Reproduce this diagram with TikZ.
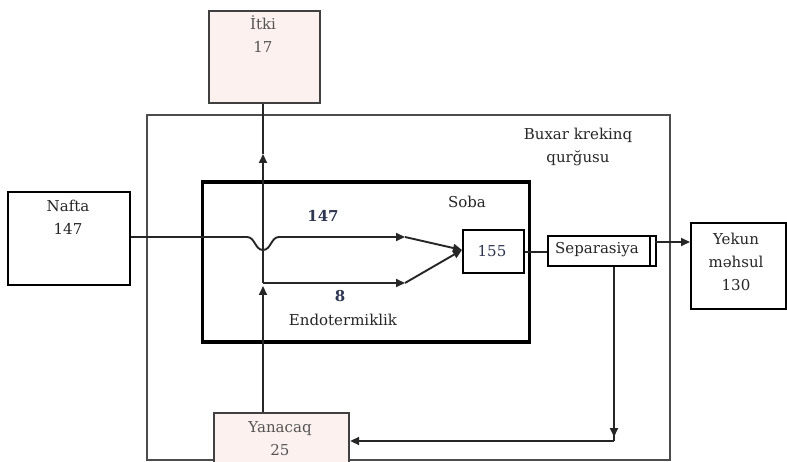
\documentclass[tikz,border=0pt]{standalone}
\usepackage{fontspec}
\setmainfont{DejaVu Serif}
\usetikzlibrary{arrows.meta}
\definecolor{pinkfill}{HTML}{FCF1EF}
\definecolor{txtgray}{HTML}{555555}
\definecolor{numblue}{HTML}{2E3652}
\begin{document}
\begin{tikzpicture}[x=1pt,y=-1pt,
  every node/.style={font=\fontsize{15}{23}\selectfont, align=center, text=black!85},
  pinkbox/.style={draw=black!75, line width=2.2pt, fill=pinkfill, inner sep=0pt},
  whitebox/.style={draw=black, line width=2.2pt, fill=white, inner sep=0pt},
  conn/.style={line width=1.9pt, black!85},
  arr/.style={conn, -{Triangle[length=9pt,width=8pt]}}
]
\useasboundingbox (0,0) rectangle (787,462);
% outer installation box
\node[draw=black!70, line width=1.5pt, minimum width=523pt, minimum height=345pt, inner sep=0pt] (outer) at (408.5,287.5) {};
\node at (578,147) (outerlbl) {Buxar krekinq\\qurğusu};
% inner furnace box
\node[draw=black, line width=3.6pt, minimum width=327pt, minimum height=160pt, inner sep=0pt] (soba) at (366,262) {};
\node at (467,202) (sobalbl) {Soba};
% external boxes
\node[pinkbox, minimum width=111pt, minimum height=92pt, anchor=north west] (itki) at (208,10) {};
\node[text=txtgray] at (263,34) (itkilbl) {İtki\\17};
\node[whitebox, minimum width=122pt, minimum height=93pt, anchor=north west] (nafta) at (7,191) {};
\node at (68,217) (naftalbl) {Nafta\\147};
\node[whitebox, minimum width=95pt, minimum height=86pt, anchor=north west] (yekun) at (690,222) {};
\node at (736,262) (yekunlbl) {Yekun\\məhsul\\130};
\node[pinkbox, minimum width=135pt, minimum height=54pt, anchor=north west] (yan) at (213,412) {};
\node[text=txtgray] at (280,439) (yanlbl) {Yanacaq\\25};
% furnace cell and separator
\node[whitebox, minimum width=61pt, minimum height=43pt, anchor=north west] (furn) at (462,229) {};
\node[text=numblue] at (492,251) (furnlbl) {155};
\node[whitebox, line width=2pt, minimum width=108pt, minimum height=30pt, anchor=north west] (sep) at (547,235) {};
\node at (597,250) (seplbl) {Separasiya};
\draw[line width=2pt] ([xshift=-7pt]sep.north east) -- ([xshift=-7pt]sep.south east);
% flow labels
\node[text=numblue, font=\fontsize{15}{18}\selectfont\bfseries] at (323,216) (l147) {147};
\node[text=numblue, font=\fontsize{15}{18}\selectfont\bfseries] at (340,296) (l8) {8};
\node at (343,320) (endo) {Endotermiklik};
% coordinates
\coordinate (b1) at (247,237);
\coordinate (b2) at (279,237);
\coordinate (t1) at (405,237);
\coordinate (t2) at (405,283);
\coordinate (vj) at (263,283);
\coordinate (va) at (263,286);
\coordinate (vb) at (263,154);
\coordinate (fin) at (462,250);
\coordinate (sarr) at (655,242);
\coordinate (sd) at (614,441);
\coordinate (sdt) at (614,437);
% naphtha line with hop
\draw[conn] (nafta.east |- b1) -- (b1) .. controls (255,237) and (255,250) .. (263,250) .. controls (271,250) and (271,237) .. (b2);
\draw[arr] (b2) -- (t1);
\draw[arr] (vj) -- (t2);
\draw[arr] (t1) -- (fin);
\draw[arr] (t2) -- (fin);
% fuel vertical line
\draw[arr] (yan.north -| vj) -- (va);
\draw[arr] (vj) -- (vb);
\draw[conn] (vb) -- (itki.south -| vb);
% furnace to separator
\draw[conn] (furn.east) -- (sep.west |- furn.east);
\draw[arr] (sarr) -- (yekun.west |- sarr);
% recycle
\draw[conn] (sep.south -| sd) -- (sd);
\draw[arr] (sep.south -| sd) -- (sdt);
\draw[arr] (sd) -- (yan.east |- sd);
\end{tikzpicture}
\end{document}
